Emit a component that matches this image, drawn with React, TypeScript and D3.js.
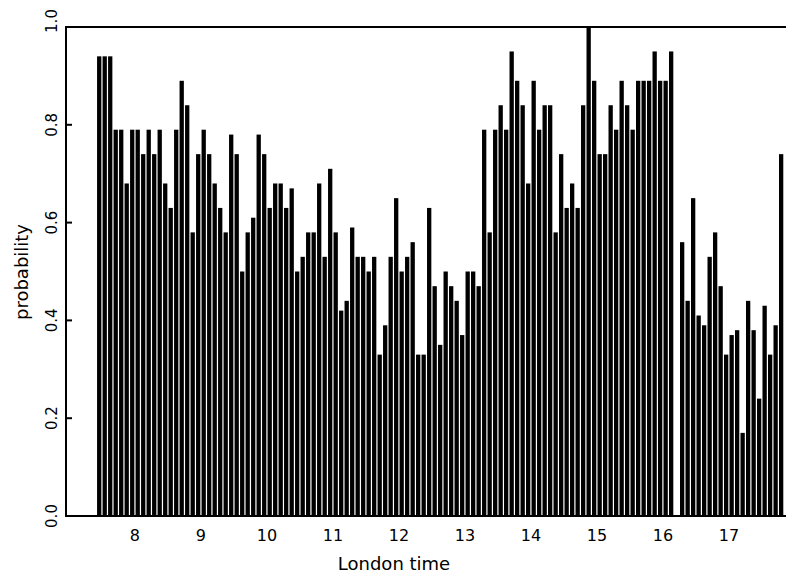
import React from "react";
import * as d3 from "d3";

// 5-minute intervals (start times, London time)
const startTimes: string[] = [
  "7:25","7:30","7:35","7:40","7:45","7:50","7:55",
  "8:00","8:05","8:10","8:15","8:20","8:25","8:30","8:35","8:40","8:45","8:50","8:55",
  "9:00","9:05","9:10","9:15","9:20","9:25","9:30","9:35","9:40","9:45","9:50","9:55",
  "10:00","10:05","10:10","10:15","10:20","10:25","10:30","10:35","10:40","10:45","10:50","10:55",
  "11:00","11:05","11:10","11:15","11:20","11:25","11:30","11:35","11:40","11:45","11:50","11:55",
  "12:00","12:05","12:10","12:15","12:20","12:25","12:30","12:35","12:40","12:45","12:50","12:55",
  "13:00","13:05","13:10","13:15","13:20","13:25","13:30","13:35","13:40","13:45","13:50","13:55",
  "14:00","14:05","14:10","14:15","14:20","14:25","14:30","14:35","14:40","14:45","14:50","14:55",
  "15:00","15:05","15:10","15:15","15:20","15:25","15:30","15:35","15:40","15:45","15:50","15:55",
  "16:00","16:05","16:10","16:15","16:20","16:25","16:30","16:35","16:40","16:45","16:50","16:55",
  "17:00","17:05","17:10","17:15","17:20","17:25","17:30","17:35","17:40","17:45",
];

const probability: number[] = [
  0.94, 0.94, 0.94, 0.79, 0.79, 0.68, 0.79,
  0.79, 0.74, 0.79, 0.74, 0.79, 0.68, 0.63, 0.79, 0.89, 0.84, 0.58,
  0.74, 0.79, 0.74, 0.68, 0.63, 0.58, 0.78, 0.74, 0.50, 0.58, 0.61, 0.78,
  0.74, 0.63, 0.68, 0.68, 0.63, 0.67, 0.50, 0.53, 0.58, 0.58, 0.68, 0.53,
  0.71, 0.58, 0.42, 0.44, 0.59, 0.53, 0.53, 0.50, 0.53, 0.33, 0.39, 0.53,
  0.65, 0.50, 0.53, 0.56, 0.33, 0.33, 0.63, 0.47, 0.35, 0.50, 0.47, 0.44,
  0.37, 0.50, 0.50, 0.47, 0.79, 0.58, 0.79, 0.84, 0.79, 0.95, 0.89, 0.84,
  0.68, 0.89, 0.79, 0.84, 0.84, 0.58, 0.74, 0.63, 0.68, 0.63, 0.84, 1.0,
  0.89, 0.74, 0.74, 0.84, 0.79, 0.89, 0.84, 0.79, 0.89, 0.89, 0.89, 0.95,
  0.89, 0.89, 0.95, 0, 0.56, 0.44, 0.65, 0.41, 0.39, 0.53, 0.58, 0.47,
  0.33, 0.37, 0.38, 0.17, 0.44, 0.38, 0.24, 0.43, 0.33, 0.39, 0.74,
];

const xTicks: number[] = [8, 9, 10, 11, 12, 13, 14, 15, 16, 17];
const yTicks: number[] = [0, 0.2, 0.4, 0.6, 0.8, 1.0];

const W = 786;
const H = 575;
const left = 66;
const right = 784;
const top = 27;
const bottom = 516;
const font = "'DejaVu Sans', sans-serif";

function toHours(s: string): number {
  const [h, m] = s.split(":").map(Number);
  return h + m / 60;
}

export default function App() {
  const x = d3.scaleLinear().domain([6.955, 17.835]).range([left, right]);
  const y = d3.scaleLinear().domain([0, 1]).range([bottom, top]);
  const step = 5 / 60;
  const gap = 1.2;

  return (
    <svg
      width={W}
      height={H}
      style={{ position: "absolute", left: 0, top: 0, background: "#fff" }}
    >
      <rect x={0} y={0} width={W} height={H} fill="#fff" />
      {startTimes.map((t, i) => {
        const h0 = toHours(t);
        const x0 = x(h0);
        const x1 = x(h0 + step);
        const v = probability[i];
        if (!v) return null;
        return (
          <rect
            key={t}
            x={x0 + gap / 2}
            width={x1 - x0 - gap}
            y={y(v)}
            height={y(0) - y(v)}
            fill="#000"
          />
        );
      })}
      {/* frame */}
      <line x1={left} x2={left} y1={top - 1} y2={bottom + 1} stroke="#000" strokeWidth={2} />
      <line x1={left - 1} x2={W} y1={top} y2={top} stroke="#000" strokeWidth={2} />
      <line x1={left - 1} x2={W} y1={bottom} y2={bottom} stroke="#000" strokeWidth={2} />
      {/* y ticks */}
      {yTicks.map((t) => (
        <g key={t}>
          <line x1={left} x2={left + 6} y1={y(t)} y2={y(t)} stroke="#000" strokeWidth={2} />
          <text
            transform={`translate(57,${t === 1 ? y(t) - 6 : y(t)}) rotate(-90)`}
            textAnchor="middle"
            fontFamily={font}
            fontSize={15}
            fill="#000"
          >
            {t.toFixed(1)}
          </text>
        </g>
      ))}
      {/* x tick labels */}
      {xTicks.map((t) => (
        <text
          key={t}
          x={x(t)}
          y={541}
          textAnchor="middle"
          fontFamily={font}
          fontSize={16}
          fill="#000"
        >
          {t}
        </text>
      ))}
      <text x={394} y={570} textAnchor="middle" fontFamily={font} fontSize={18} fill="#000">
        London time
      </text>
      <text
        transform={`translate(28,272) rotate(-90)`}
        textAnchor="middle"
        fontFamily={font}
        fontSize={18}
        fill="#000"
      >
        probability
      </text>
    </svg>
  );
}
